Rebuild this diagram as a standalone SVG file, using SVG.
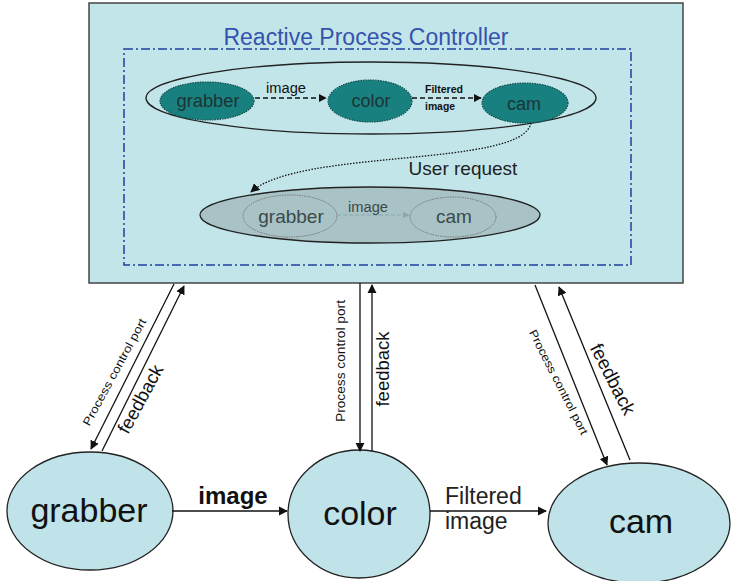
<svg xmlns="http://www.w3.org/2000/svg" width="731" height="581" viewBox="0 0 731 581">
<style>
text{font-family:"Liberation Sans",Arial,sans-serif}
.big{fill:#bfe3e8;stroke:#222;stroke-width:1.3}
.teal{fill:#198080;stroke:#0d4a4a;stroke-width:1.2;stroke-dasharray:1.5 1}
.ln{stroke:#111;stroke-width:1.3;fill:none}
.sm{fill:#111}
.tt{fill:#1c3434;font-size:18px}
.lt{fill:#3a4a4a;font-size:19px}
.bt{fill:#111;font-size:34px}
</style>
<defs>
<marker id="ah" viewBox="0 0 10 10" refX="9" refY="5" markerWidth="7" markerHeight="7" orient="auto"><path d="M0,0L10,5L0,10z" fill="#111"/></marker>
<marker id="ahs" viewBox="0 0 10 10" refX="9" refY="5" markerWidth="6" markerHeight="6" orient="auto"><path d="M0,0L10,5L0,10z" fill="#111"/></marker>
<marker id="ahg" viewBox="0 0 10 10" refX="9" refY="5" markerWidth="6" markerHeight="6" orient="auto"><path d="M0,0L10,5L0,10z" fill="#8aa8ac"/></marker>
</defs>
<rect width="731" height="581" fill="#fff"/>
<g id="controller">
<rect x="89" y="3" width="594" height="280" fill="#c2e5e9" stroke="#444" stroke-width="1.5"/>
<rect x="124" y="49" width="507" height="216" fill="none" stroke="#1f3f9f" stroke-width="1.5" stroke-dasharray="9 3 2 3"/>
<text x="366" y="45" font-size="23" fill="#3553ad" text-anchor="middle">Reactive Process Controller</text>
</g>
<g id="top-group">
<ellipse cx="371" cy="98" rx="225" ry="36" fill="none" stroke="#222" stroke-width="1.3"/>
</g>
<g id="top-grabber"><ellipse class="teal" cx="207" cy="101" rx="47" ry="19"/><text x="208" y="107" class="tt" text-anchor="middle" textLength="63" lengthAdjust="spacingAndGlyphs">grabber</text></g>
<g id="top-color"><ellipse class="teal" cx="370" cy="101" rx="42" ry="21"/><text x="371" y="107" class="tt" text-anchor="middle">color</text></g>
<g id="top-cam"><ellipse class="teal" cx="525" cy="103" rx="43" ry="20"/><text x="524" y="110" class="tt" text-anchor="middle">cam</text></g>
<g id="lower-group">
<ellipse cx="370" cy="215" rx="170" ry="28" fill="#a9c2c5" stroke="#222" stroke-width="1.3"/>
</g>
<g id="lower-grabber"><ellipse cx="290" cy="216" rx="47" ry="21" fill="none" stroke="#777" stroke-width="1" stroke-dasharray="1.5 1"/><text x="291" y="223" class="lt" text-anchor="middle">grabber</text></g>
<g id="lower-cam"><ellipse cx="453" cy="217" rx="43" ry="20" fill="none" stroke="#777" stroke-width="1" stroke-dasharray="1.5 1"/><text x="454" y="223" class="lt" text-anchor="middle">cam</text></g>
<g id="grabber"><ellipse class="big" cx="90" cy="511" rx="83" ry="59"/><text x="89" y="522" class="bt" text-anchor="middle">grabber</text></g>
<g id="color"><ellipse class="big" cx="359" cy="514" rx="71" ry="64"/><text x="360" y="525" class="bt" text-anchor="middle">color</text></g>
<g id="cam"><ellipse class="big" cx="639" cy="523" rx="91" ry="60"/><text x="641" y="533" class="bt" text-anchor="middle">cam</text></g>
<g id="connectors">
<line x1="255" y1="98" x2="326" y2="98" class="ln" stroke-dasharray="5 3" marker-end="url(#ahs)"/>
<text x="286" y="93" font-size="14" class="sm" text-anchor="middle" textLength="40" lengthAdjust="spacingAndGlyphs">image</text>
<line x1="412" y1="98" x2="481" y2="98" class="ln" stroke-dasharray="5 3" marker-end="url(#ahs)"/>
<text x="444" y="93" font-size="10.5" font-weight="bold" class="sm" text-anchor="middle" textLength="38" lengthAdjust="spacingAndGlyphs">Filtered</text>
<text x="440" y="110" font-size="10.5" font-weight="bold" class="sm" text-anchor="middle" textLength="30" lengthAdjust="spacingAndGlyphs">image</text>
<path d="M531 123 C 522 168, 300 148, 251 192" class="ln" stroke-width="1.5" stroke-dasharray="1.5 1.5" marker-end="url(#ah)"/>
<text x="463" y="175" font-size="19" fill="#222" text-anchor="middle">User request</text>
<line x1="337" y1="215" x2="409" y2="215" stroke="#8aa8ac" stroke-width="1.2" stroke-dasharray="4 2" marker-end="url(#ahg)"/>
<text x="368" y="212" font-size="14" fill="#3a4a4a" text-anchor="middle" textLength="40" lengthAdjust="spacingAndGlyphs">image</text>
<line x1="172" y1="511" x2="287" y2="511" class="ln" marker-end="url(#ah)"/>
<text x="233" y="504" font-size="24" font-weight="bold" class="sm" text-anchor="middle">image</text>
<line x1="430" y1="511" x2="546" y2="511" class="ln" marker-end="url(#ah)"/>
<text x="445" y="504" font-size="23" fill="#222">Filtered</text>
<text x="445" y="529" font-size="23" fill="#222">image</text>
<line x1="174" y1="284" x2="91" y2="449" class="ln" marker-end="url(#ah)"/>
<line x1="102" y1="451" x2="184" y2="286" class="ln" marker-end="url(#ah)"/>
<text transform="translate(118,374) rotate(-61.5)" font-size="11.5" class="sm" text-anchor="middle" textLength="120" lengthAdjust="spacingAndGlyphs">Process control port</text>
<text transform="translate(146,402) rotate(-61.5)" font-size="18.5" class="sm" text-anchor="middle">feedback</text>
<line x1="360" y1="283" x2="360" y2="451" class="ln" marker-end="url(#ah)"/>
<line x1="372" y1="451" x2="372" y2="285" class="ln" marker-end="url(#ah)"/>
<text transform="translate(345,361) rotate(-90)" font-size="12" class="sm" text-anchor="middle" textLength="122" lengthAdjust="spacingAndGlyphs">Process control port</text>
<text transform="translate(389,369) rotate(-90)" font-size="18.5" class="sm" text-anchor="middle">feedback</text>
<line x1="535" y1="285" x2="607" y2="465" class="ln" marker-end="url(#ah)"/>
<line x1="630" y1="460" x2="559" y2="287" class="ln" marker-end="url(#ah)"/>
<text transform="translate(555,384) rotate(63)" font-size="11.5" class="sm" text-anchor="middle" textLength="116" lengthAdjust="spacingAndGlyphs">Process control port</text>
<text transform="translate(607,382) rotate(63)" font-size="19" class="sm" text-anchor="middle">feedback</text>
</g>
</svg>
